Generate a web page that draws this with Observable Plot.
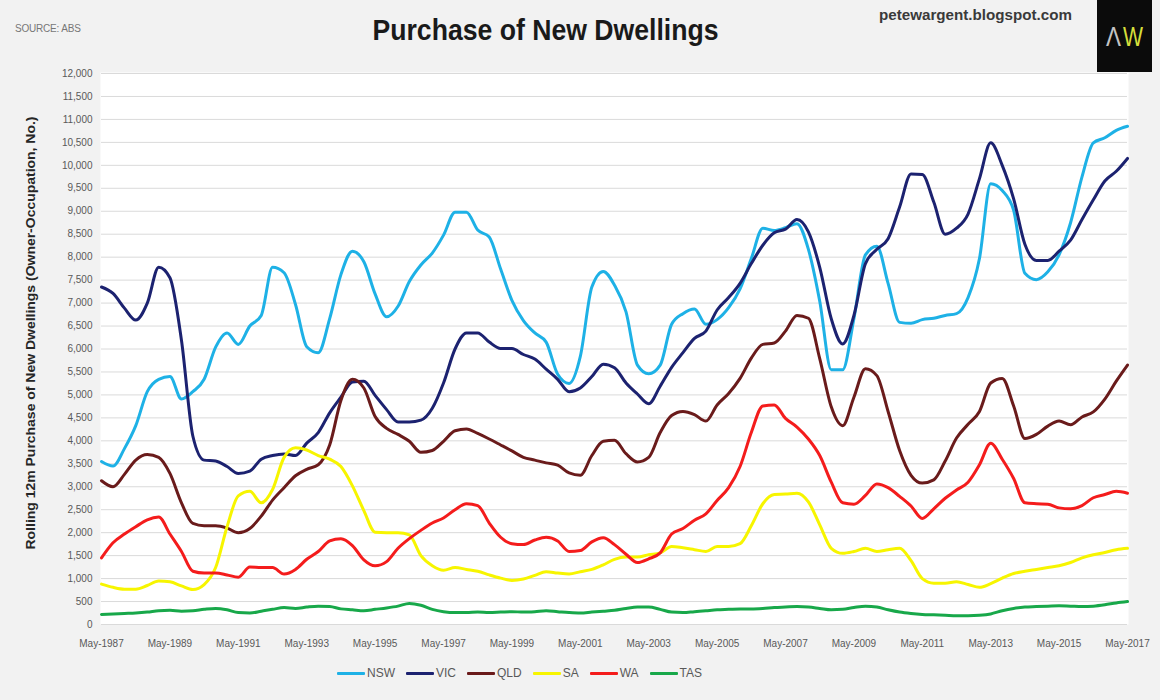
<!DOCTYPE html>
<html>
<head>
<meta charset="utf-8">
<script src="https://cdn.jsdelivr.net/npm/d3@7"></script>
<script src="https://cdn.jsdelivr.net/npm/@observablehq/plot@0.6"></script>
<style>
  html, body { margin: 0; padding: 0; background: #f2f2f2; }
  #wrap { position: relative; width: 1160px; height: 700px; overflow: hidden; background: #f2f2f2;
          font-family: "Liberation Sans", Arial, sans-serif; }
  #chart { position: absolute; left: 0; top: 60px; }
  #overlay { position: absolute; left: 0; top: 0; pointer-events: none; }
  #source { position: absolute; left: 15px; top: 23px; font-size: 10px; color: #777; letter-spacing: -0.2px; }
  #legend { position: absolute; left: 337px; top: 666px; display: flex; align-items: center; gap: 11px;
            font-size: 12px; color: #595959; }
  .item { display: flex; align-items: center; }
  .sw { width: 28px; height: 3px; margin-right: 2px; border-radius: 1px; }
</style>
</head>
<body>
<div id="wrap">
  <div id="source">SOURCE: ABS</div>
  <div id="chart"></div>
  <svg id="overlay" width="1160" height="700">
    <text x="545.5" y="40" text-anchor="middle" font-size="29" font-weight="bold" fill="#1a1a1a"
          textLength="346" lengthAdjust="spacingAndGlyphs"
          font-family="Liberation Sans Narrow, Arial Narrow, Liberation Sans, Arial, sans-serif">Purchase of New Dwellings</text>
    <text x="879" y="20" font-size="15" font-weight="bold" fill="#3a3a3a"
          textLength="193" lengthAdjust="spacingAndGlyphs"
          font-family="Liberation Sans, Arial, sans-serif">petewargent.blogspot.com</text>
    <rect x="1097" y="0" width="55" height="72" fill="#0b0b0b"></rect>
    <text x="1106" y="46" font-size="28" textLength="15" lengthAdjust="spacingAndGlyphs" fill="#c4c4c4"
          font-family="Liberation Sans, Arial, sans-serif">Λ</text>
    <text x="1123" y="46" font-size="28" textLength="20" lengthAdjust="spacingAndGlyphs" fill="#d5de3a"
          font-family="Liberation Sans, Arial, sans-serif">W</text>
    <text transform="translate(35,333) rotate(-90)" text-anchor="middle" font-size="13" font-weight="bold" fill="#262626"
          textLength="433" lengthAdjust="spacingAndGlyphs"
          font-family="Liberation Sans Narrow, Arial Narrow, Liberation Sans, Arial, sans-serif">Rolling 12m Purchase of New Dwellings (Owner-Occupation, No.)</text>
  </svg>
  <div id="legend"></div>
</div>
<script>
// ---- data (one value every 4 months, May-1987 .. May-2017) ----
const startYear = 1987, startMonth = 5, stepMonths = 4;

const seriesNames = ["NSW", "VIC", "QLD", "SA", "WA", "TAS"];
const seriesColors = ["#1eb1e6", "#1c2270", "#6a1b1b", "#f7f500", "#f41c1c", "#18a84a"];

const NSW = [3550,3450,3830,4330,5070,5340,5400,4910,5070,5340,
  6040,6350,6100,6500,6730,7780,7660,6970,6050,5920,
  6660,7620,8130,7900,7200,6700,6930,7470,7830,8090,
  8480,8980,8980,8590,8440,7740,7060,6620,6350,6150,
  5450,5250,5840,7350,7690,7390,6810,5650,5460,5650,
  6540,6770,6870,6540,6640,6900,7310,7970,8630,8580,
  8640,8730,8170,7040,5550,5550,6660,8050,8240,7430,
  6580,6560,6640,6670,6730,6770,7120,7970,9600,9450,
  9020,7650,7510,7680,8050,8750,9750,10490,10600,10760,
  10850];
const VIC = [7350,7210,6890,6630,7000,7780,7550,6190,4100,3580,
  3560,3440,3290,3340,3600,3680,3715,3680,3950,4180,
  4610,4950,5280,5300,4990,4680,4410,4410,4450,4710,
  5260,6000,6350,6350,6150,6010,6010,5880,5780,5560,
  5340,5070,5150,5400,5670,5590,5260,5020,4810,5190,
  5600,5920,6230,6390,6850,7120,7430,7860,8260,8530,
  8610,8820,8550,7780,6660,6110,6730,7860,8170,8400,
  9090,9810,9800,9200,8500,8630,8940,9710,10490,10000,
  9270,8280,7930,7930,8130,8370,8820,9250,9660,9870,
  10150];
const QLD = [3130,3000,3270,3580,3700,3640,3290,2650,2200,2150,
  2150,2100,2000,2090,2360,2710,2980,3240,3380,3480,
  3910,4880,5340,5150,4530,4270,4140,3990,3750,3790,
  3990,4220,4260,4160,4040,3910,3780,3640,3580,3520,
  3470,3300,3250,3680,3990,4010,3720,3540,3640,4180,
  4550,4640,4570,4430,4780,5030,5360,5800,6100,6130,
  6390,6730,6670,5790,4740,4330,4950,5570,5420,4640,
  3790,3250,3080,3150,3560,4060,4360,4640,5260,5360,
  4760,4050,4140,4320,4430,4350,4520,4630,4910,5300,
  5650];
const SA = [880,810,770,770,850,950,930,840,760,870,
  1240,2130,2800,2900,2650,2940,3640,3850,3800,3680,
  3600,3440,3020,2480,2010,2000,2000,1950,1500,1280,
  1180,1240,1200,1160,1080,1010,960,990,1070,1150,
  1120,1100,1150,1200,1300,1420,1470,1470,1520,1560,
  1700,1670,1630,1590,1700,1700,1760,2150,2630,2830,
  2840,2860,2670,2170,1660,1550,1590,1660,1590,1630,
  1660,1390,1000,900,900,930,870,810,890,1010,
  1110,1160,1200,1240,1280,1350,1450,1520,1570,1630,
  1660];
const WA = [1450,1780,1970,2130,2280,2340,1970,1590,1160,1120,
  1120,1080,1030,1250,1240,1240,1100,1200,1420,1590,
  1820,1870,1720,1410,1280,1370,1660,1870,2050,2210,
  2320,2500,2630,2590,2210,1900,1760,1740,1840,1900,
  1820,1590,1610,1800,1890,1740,1530,1350,1430,1560,
  1970,2090,2270,2410,2700,2980,3440,4180,4760,4780,
  4490,4300,4040,3680,3100,2650,2620,2810,3060,2980,
  2790,2580,2310,2520,2750,2930,3100,3480,3950,3600,
  3180,2650,2630,2620,2540,2520,2590,2760,2830,2900,
  2860];
const TAS = [220,230,240,250,270,300,310,290,300,330,
  350,320,260,250,290,330,370,350,380,400,
  390,340,320,300,330,360,400,460,420,330,
  280,260,260,270,260,270,280,270,280,300,
  280,260,250,270,290,310,350,380,380,330,
  270,260,280,300,320,330,340,340,350,370,
  380,390,380,350,320,330,370,400,380,320,
  270,240,220,210,200,190,190,200,230,300,
  350,380,390,400,410,400,390,400,430,470,
  500];

const xTickLabels = ["May-1987","May-1989","May-1991","May-1993","May-1995","May-1997","May-1999","May-2001",
  "May-2003","May-2005","May-2007","May-2009","May-2011","May-2013","May-2015","May-2017"];
const yTickStep = 500, yMax = 12000;

// ---- build table ----
const seriesValues = [NSW, VIC, QLD, SA, WA, TAS];
const dates = NSW.map((_, i) => new Date(Date.UTC(startYear, startMonth - 1 + stepMonths * i, 1)));
const table = seriesNames.flatMap((name, k) =>
  seriesValues[k].map((v, i) => ({date: dates[i], value: v, state: name})));
const xTickDates = xTickLabels.map(s => new Date(Date.UTC(+s.slice(4), 4, 1)));
const yTicks = d3.range(0, yMax + 1, yTickStep);

const chart = Plot.plot({
  width: 1160,
  height: 600,
  marginLeft: 101,
  marginRight: 33,
  marginTop: 13,
  marginBottom: 36,
  style: {background: "transparent", fontFamily: "Liberation Sans, Arial, sans-serif", fontSize: "10px", color: "#595959", overflow: "visible"},
  x: {type: "utc", domain: [dates[0], dates[dates.length - 1]]},
  y: {domain: [0, yMax]},
  color: {domain: seriesNames, range: seriesColors},
  marks: [
    Plot.frame({fill: "white", stroke: "none", insetLeft: -1, insetRight: -1, insetTop: -1}),
    Plot.ruleY(yTicks, {stroke: "#dadada", strokeWidth: 1}),
    Plot.line(table, {x: "date", y: "value", z: "state", stroke: "state", strokeWidth: 3,
      curve: "monotone-x", strokeLinejoin: "round", strokeLinecap: "round"}),
    Plot.axisX({ticks: xTickDates, tickFormat: d => "May-" + d.getUTCFullYear(), tickSize: 0, tickPadding: 15, label: null, fontSize: 10}),
    Plot.axisY({ticks: yTicks, tickFormat: d3.format(","), tickSize: 0, tickPadding: 9, label: null, fontSize: 10})
  ]
});
document.getElementById("chart").appendChild(chart);

// ---- legend ----
const legend = d3.select("#legend");
seriesNames.forEach((name, k) => {
  const item = legend.append("div").attr("class", "item");
  item.append("div").attr("class", "sw").style("background", seriesColors[k]);
  item.append("span").text(name);
});
</script>
</body>
</html>
